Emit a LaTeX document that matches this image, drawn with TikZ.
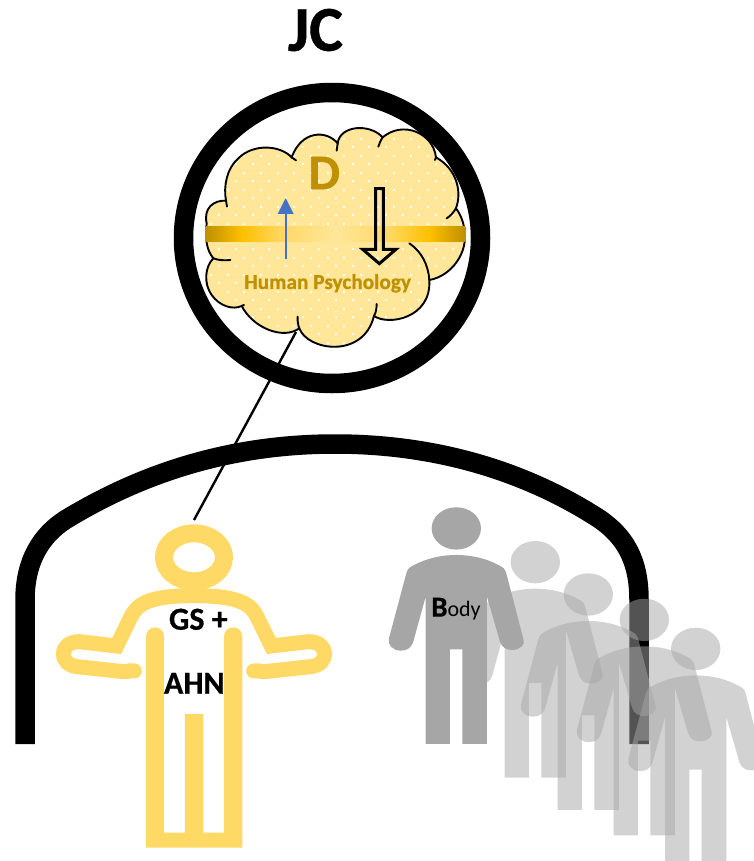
\documentclass[tikz,border=0pt]{standalone}
\usepackage{fontspec}
\setmainfont[BoldFeatures={FakeBold=0.6}]{Carlito}
\definecolor{gold}{HTML}{BF9000}
\definecolor{cloudfill}{HTML}{FFE699}
\definecolor{figgold}{HTML}{FFD966}
\definecolor{bodygray}{HTML}{A6A6A6}
\definecolor{arrowblue}{HTML}{4472C4}
\definecolor{amberband}{HTML}{FFC000}
\pgfdeclarehorizontalshading{bandshade}{100bp}{
 color(0bp)=(gold); color(25bp)=(gold); color(32bp)=(amberband); color(40bp)=(figgold); color(50bp)=(cloudfill); color(60bp)=(figgold); color(68bp)=(amberband); color(75bp)=(gold); color(100bp)=(gold)}
\tikzset{
 figline/.style={draw=figgold,line width=15pt,line join=miter,miter limit=10},
 figfill/.style={fill=figgold,draw=none},
 lobe/.style={draw=black,line width=1.9pt,line cap=round},
 lbl/.style={inner sep=0pt,font=\bfseries},
 ghost/.style={fill=bodygray,draw=none,fill opacity=.5},
 solidbody/.style={fill=bodygray,draw=none}
}
\newcommand{\cloudoutline}{(365,232) .. controls (330,195) and (250,190) .. (205,235) .. controls (170,265) and (160,320) .. (168,362)
 .. controls (130,360) and (100,385) .. (110,430) .. controls (105,480) and (110,510) .. (130,535)
 .. controls (105,560) and (100,610) .. (125,645) .. controls (150,680) and (190,690) .. (215,678)
 .. controls (250,745) and (340,780) .. (388,745)
 .. controls (412,812) and (580,838) .. (612,708)
 .. controls (655,738) and (785,715) .. (778,600)
 .. controls (840,590) and (900,520) .. (882,440) .. controls (878,420) and (870,400) .. (858,385)
 .. controls (875,340) and (865,270) .. (798,232)
 .. controls (790,160) and (700,120) .. (638,172)
 .. controls (600,130) and (510,135) .. (503,190)
 .. controls (470,150) and (395,150) .. (365,232) -- cycle}
\newcommand{\personshape}[2]{%
 \path[#2,shift={(#1)},x=0.3333pt,y=-0.3333pt]
 (-74,0) .. controls (-74,-35) and (-41,-63) .. (0,-63) .. controls (41,-63) and (74,-35) .. (74,0) .. controls (74,35) and (41,64) .. (0,64) .. controls (-41,64) and (-74,35) .. (-74,0) -- cycle
 (-92,647) -- (-92,205) -- (-129,340) .. controls (-137,362) and (-150,367) .. (-167,367) .. controls (-190,367) and (-207,350) .. (-202,330)
 -- (-150,135) .. controls (-146,122) and (-142,118) .. (-130,112) .. controls (-90,90) and (-45,80) .. (0,80) .. controls (45,80) and (90,90) .. (130,112) .. controls (142,118) and (146,122) .. (150,135)
 -- (202,335) .. controls (207,350) and (190,365) .. (168,365) .. controls (150,365) and (137,358) .. (131,340) -- (92,205) -- (92,647)
 -- (18,647) -- (18,363) -- (-19,363) -- (-19,647) -- cycle;}
\begin{document}
\begin{tikzpicture}[x=1pt,y=-1pt]
\useasboundingbox (0,0) rectangle (754,861);
\node[lbl,font=\bfseries\fontsize{64}{64}\selectfont] (jc) at (315.5,30) {JC};
% dome
\coordinate (domeL) at (25,744);
\coordinate (domeR) at (639,744);
\draw[line width=19.5pt] (domeL) -- (25,600) .. controls (25,560) and (42,535) .. (65,520)
 .. controls (150,468) and (240,444) .. (335,444) .. controls (430,444) and (520,468) .. (598,518)
 .. controls (625,536) and (639,560) .. (639,600) -- (domeR);
% lens
\draw[line width=19.5pt] (332,238) ellipse [x radius=148.5,y radius=145.5];
% connector
\coordinate (cloudfoot) at (296,332);
\coordinate (figtop) at (194,520);
\draw[line width=2.4pt] (cloudfoot) -- (figtop);
% cloud
\begin{scope}[shift={(170,80)},x=0.3333pt,y=-0.3333pt]
 \fill[cloudfill] \cloudoutline;
 \begin{scope}
 \clip \cloudoutline;
 \foreach \r in {0,...,28}{
  \foreach \c in {0,...,17}{
   \pgfmathsetmacro{\xx}{73+\c*50+mod(\r,2)*25}
   \pgfmathsetmacro{\yy}{125+\r*25.5}
   \fill[white] (\xx-3,\yy-3) rectangle (\xx+3,\yy+3);
  }
 }
 \end{scope}
 \draw[lobe] \cloudoutline;
 \draw[lobe] (168,362) -- (171,380);
 \draw[lobe] (130,535) .. controls (145,541) and (165,542) .. (181,540);
 \draw[lobe] (215,678) -- (222,675);
 \draw[lobe] (388,745) .. controls (384,735) and (382,722) .. (383,710);
 \draw[lobe] (612,708) .. controls (618,698) and (620,685) .. (620,672);
 \draw[lobe] (778,600) .. controls (775,555) and (755,515) .. (718,490);
 \draw[lobe] (858,385) .. controls (850,398) and (842,408) .. (830,415);
 \draw[lobe] (798,232) -- (795,240);
 \draw[lobe] (638,172) .. controls (632,182) and (628,190) .. (625,200);
 \draw[lobe] (503,190) -- (500,212);
 \draw[lobe] (365,232) -- (378,241);
 % band
 \shade[shading=bandshade] (107,441) rectangle (886,486);
 % up arrow
 \coordinate (upfoot) at (347,538);
 \coordinate (uptip) at (347,354);
 \draw[arrowblue,line width=1.9pt] (upfoot) -- (347,400);
 \fill[arrowblue] (uptip) -- (371,402) -- (323,402) -- cycle;
 % block arrow
 \draw[line width=3pt,line join=miter] (617,326) -- (640,326) -- (640,508) -- (678,508) -- (628,551) -- (578,508) -- (617,508) -- cycle;
 \node[lbl,text=gold,font=\bfseries\fontsize{50}{50}\selectfont] (dlabel) at (463,279) {D};
 \node[lbl,text=gold,font=\bfseries\fontsize{21.3}{22}\selectfont] (hp) at (473,610) {Human Psychology};
\end{scope}
% yellow figure
\begin{scope}[shift={(40,510)},x=0.3333pt,y=-0.3333pt]
 \draw[figgold,line width=18pt] (462,142) ellipse [x radius=90,y radius=72];
 \draw[figline,line cap=round] (283,483) .. controls (272,478) and (268,486) .. (250,485) -- (112,470)
   .. controls (55,465) and (55,395) .. (118,395) -- (230,408) -- (272,322) .. controls (290,285) and (320,257) .. (462,257)
   .. controls (604,257) and (634,285) .. (652,322) -- (694,408) -- (806,395) .. controls (869,395) and (869,465) .. (812,470)
   -- (674,485) .. controls (656,486) and (652,478) .. (641,483);
 \fill[figfill] (318,1013) -- (318,380) .. controls (318,343) and (372,343) .. (372,380) -- (372,968)
   -- (435,968) -- (435,612) -- (490,612) -- (490,968) -- (552,968) -- (552,380) .. controls (552,343) and (607,343) .. (607,380) -- (607,1013) -- cycle;
 \node[lbl,font=\bfseries\fontsize{32}{32}\selectfont] (gs) at (475,328) {GS +};
 \node[lbl,font=\bfseries\fontsize{32}{32}\selectfont] (ahn) at (463,520) {AHN};
\end{scope}
% gray figures
\personshape{456.3,528.3}{solidbody}
\node[lbl,font=\normalfont] (bodytext) at (456,609) {{\bfseries\fontsize{29}{29}\selectfont B}{\fontsize{22}{22}\selectfont ody}};
\personshape{535.3,562}{ghost}
\personshape{588.3,594.3}{ghost}
\personshape{644.3,619.7}{ghost}
\personshape{695.7,648.7}{ghost}
\end{tikzpicture}
\end{document}
